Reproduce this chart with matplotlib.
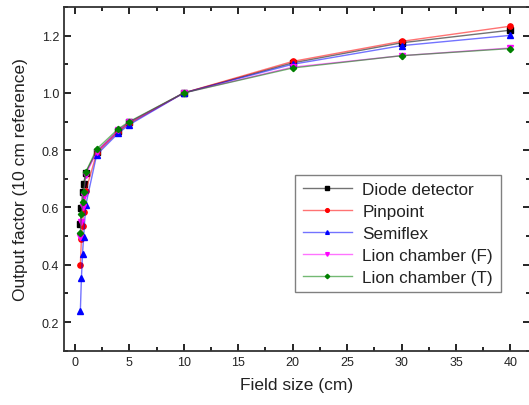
import matplotlib
matplotlib.use("Agg")
import matplotlib.pyplot as plt
from matplotlib.ticker import MultipleLocator

plt.rcParams["font.family"] = ["Liberation Sans", "DejaVu Sans"]

FIELD = [0.5, 0.6, 0.7, 0.8, 1.0, 2, 4, 5, 10, 20, 30, 40]

DIODE = [0.542, 0.598, 0.654, 0.682, 0.722, 0.795, 0.868, 0.897, 1.0, 1.105, 1.175, 1.219]
PINPOINT = [0.400, 0.491, 0.536, 0.586, 0.658, 0.790, 0.865, 0.893, 1.0, 1.110, 1.180, 1.233]
SEMIFLEX = [0.237, 0.354, 0.437, 0.497, 0.609, 0.784, 0.860, 0.889, 1.0, 1.100, 1.165, 1.201]
LION_F = [0.496, 0.550, 0.600, 0.640, 0.715, 0.795, 0.870, 0.898, 1.0, 1.090, 1.130, 1.157]
LION_T = [0.510, 0.577, 0.619, 0.654, 0.724, 0.804, 0.875, 0.900, 1.0, 1.087, 1.130, 1.155]

SERIES = [
    ("Diode detector", DIODE, (0, 0, 0), "s"),
    ("Pinpoint", PINPOINT, (1, 0, 0), "o"),
    ("Semiflex", SEMIFLEX, (0, 0, 1), "^"),
    ("Lion chamber (F)", LION_F, (1, 0, 1), "v"),
    ("Lion chamber (T)", LION_T, (0, 0.5, 0), "D"),
]


def main():
    fig = plt.figure(figsize=(5.29, 4.06), dpi=100)
    ax = fig.add_axes([64 / 529, 54.3 / 406, 466 / 529, 343.7 / 406])

    for label, vals, col, mk in SERIES:
        ax.plot(FIELD, vals, color=col + (0.55,), lw=1.0, marker=mk,
                ms=3.8 if mk != "D" else 3.2, markerfacecolor=col,
                markeredgecolor=col, label=label)

    ax.set_xlim(-1, 41.8)
    ax.set_ylim(0.1, 1.3)
    ax.xaxis.set_major_locator(MultipleLocator(5))
    ax.xaxis.set_minor_locator(MultipleLocator(2.5))
    ax.yaxis.set_major_locator(MultipleLocator(0.2))
    ax.yaxis.set_minor_locator(MultipleLocator(0.1))
    ax.tick_params(which="both", direction="in", top=True, right=True,
                   labelsize=9, width=1.2, labelcolor="#222222")
    ax.tick_params(which="major", length=5)
    ax.tick_params(which="minor", length=3)
    for sp in ax.spines.values():
        sp.set_linewidth(1.3)
        sp.set_color("#333333")

    ax.set_xlabel("Field size (cm)", fontsize=12.5, labelpad=7, color="#222222")
    ax.set_ylabel("Output factor (10 cm reference)", fontsize=12.5,
                  labelpad=10, color="#222222")

    leg = ax.legend(loc="lower right", bbox_to_anchor=(0.937, 0.17),
                    fontsize=12.3, fancybox=False, edgecolor="#808080",
                    handlelength=2.9, handletextpad=0.6, labelspacing=0.4,
                    borderpad=0.45, borderaxespad=0, framealpha=1,
                    markerscale=0.7)
    leg.get_frame().set_linewidth(1.0)
    for t in leg.get_texts():
        t.set_color("#222222")

    fig.savefig("out.png", dpi=100)


if __name__ == "__main__":
    main()
